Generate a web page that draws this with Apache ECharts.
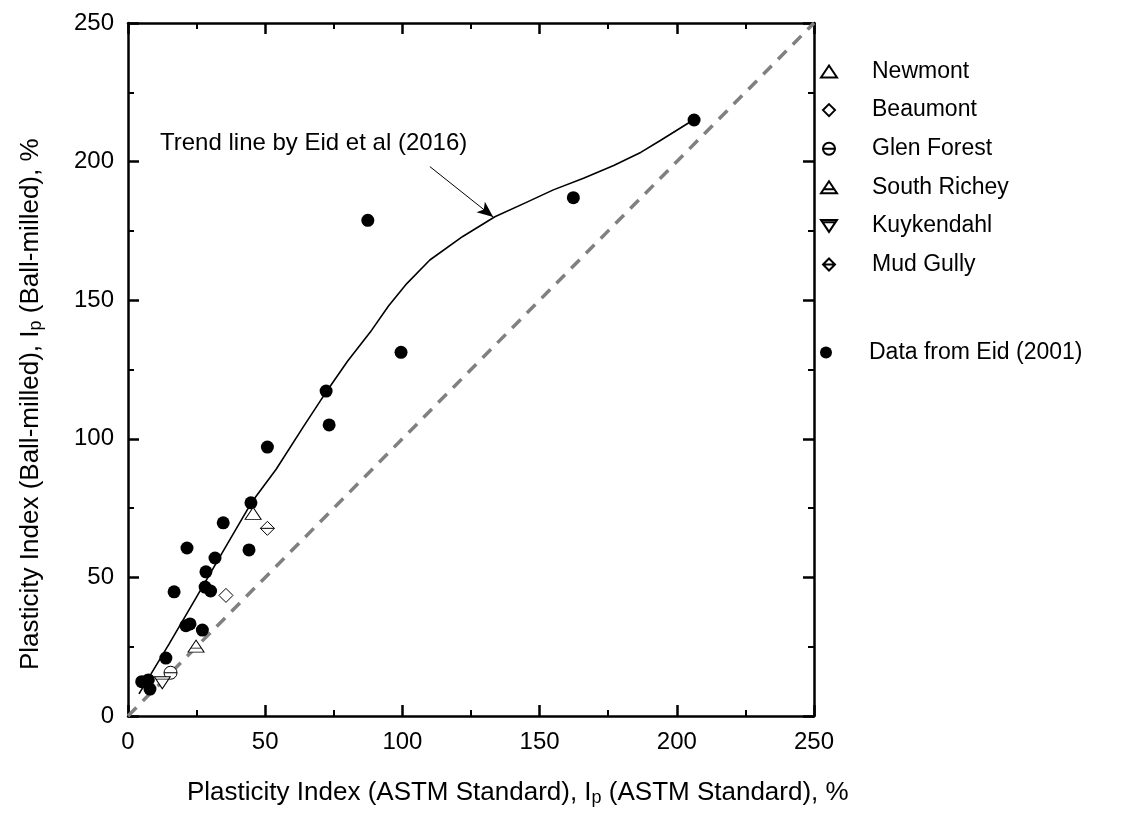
<!DOCTYPE html>
<html><head><meta charset="utf-8">
<script src="https://cdn.jsdelivr.net/npm/echarts@6/dist/echarts.min.js"></script>
<style>html,body{margin:0;padding:0;background:#fff}#c{width:1136px;height:819px}</style>
</head><body><div id="c"></div>
<script>
const axisMin = 0, axisMax = 250, axisStep = 50;
const newmont = [[45.6, 73.1]];
const beaumont = [[35.7, 43.5]];
const glenForest = [[15.5, 15.6]];
const southRichey = [[24.8, 25.2]];
const kuykendahl = [[12.5, 12.0]];
const mudGully = [[50.8, 67.7]];
const eidData = [
  [5.0, 12.4], [7.4, 13.0], [8.0, 9.7], [13.8, 20.9], [16.8, 44.8], [21.1, 32.6],
  [22.6, 33.2], [21.5, 60.6], [27.1, 31.0], [28.1, 46.5], [30.1, 45.1], [28.4, 52.0],
  [31.7, 57.0], [34.7, 69.7], [44.1, 59.9], [44.8, 76.9], [50.8, 97.0], [72.2, 117.2],
  [73.3, 105.0], [87.4, 178.8], [99.5, 131.2], [162.3, 187.0], [206.3, 215.0]
];
const trendLine = [
  [4, 8], [15, 26], [25, 43], [35, 60], [45, 77], [54, 89], [64, 104.5], [72.3, 117],
  [80, 128], [88.8, 139.2], [95, 148], [101.6, 156], [110, 164.5], [122, 173],
  [133.7, 180.1], [145, 185.2], [155, 189.8], [166, 194], [177, 198.6], [187, 203.4],
  [194, 207.6], [206, 215]
];
const equalityLine = [[0, 0], [250, 250]];
const arrowFrom = [110, 198.2];
const arrowTo = [133.1, 180];

const FONT = 'Liberation Sans, Arial, sans-serif';
const sym = {
  Newmont: 'path://M10,0L20,15L0,15Z',
  Beaumont: 'path://M10,0L20,10L10,20L0,10Z',
  'Glen Forest': 'path://M0,10A10,10,0,1,1,20,10A10,10,0,1,1,0,10ZM0,10L20,10',
  'South Richey': 'path://M10,0L20,15L0,15ZM3.3,10L16.7,10',
  Kuykendahl: 'path://M0,0L20,0L10,15ZM1.8,3L18.2,3',
  'Mud Gully': 'path://M10,0L20,10L10,20L0,10ZM0,10L20,10',
  'Data from Eid (2001)': 'circle'
};
const openStyle = {color: '#fff', borderColor: '#000', borderWidth: 1, opacity: 1};

function axis(pos, labels) {
  return {
    type: 'value', position: pos, min: axisMin, max: axisMax, interval: axisStep,
    axisLine: {show: true, onZero: false, lineStyle: {color: '#000', width: 2.5}},
    axisTick: {show: true, inside: true, length: 11, lineStyle: {color: '#000', width: 2.5}},
    minorTick: {show: true, splitNumber: 2, length: 6, lineStyle: {color: '#000', width: 2}},
    splitLine: {show: false},
    axisLabel: {show: labels, color: '#000', fontSize: 24, fontFamily: FONT, margin: 14}
  };
}
function openSeries(name, data, size) {
  return {name, type: 'scatter', data, symbol: sym[name], symbolSize: size,
    itemStyle: openStyle, z: 5};
}
const chart = echarts.init(document.getElementById('c'), null, {renderer: 'canvas'});
const richTitle = {
  a: {fontSize: 26, fontFamily: FONT, color: '#000'},
  s: {fontSize: 18, fontFamily: FONT, color: '#000', verticalAlign: 'bottom', padding: [11, 0, 0, 0]}
};
chart.setOption({
  animation: false,
  backgroundColor: '#fff',
  grid: {left: 128, right: 322, top: 23, bottom: 103},
  xAxis: [axis('bottom', true), axis('top', false)],
  yAxis: [axis('left', true), axis('right', false)],
  legend: [{
    orient: 'vertical', left: 815, top: 55, itemGap: 15.6,
    itemWidth: 76, itemHeight: 12, symbolKeepAspect: true,
    textStyle: {fontSize: 23, fontFamily: FONT, color: '#000'},
    data: ['Newmont', 'Beaumont', 'Glen Forest', 'South Richey', 'Kuykendahl', 'Mud Gully']
  }, {
    orient: 'vertical', left: 815, top: 336, itemWidth: 76, itemHeight: 12, symbolKeepAspect: true,
    textStyle: {fontSize: 23, fontFamily: FONT, color: '#000'},
    data: ['Data from Eid (2001)']
  }],
  graphic: [
    {type: 'text', x: 160, y: 143, style: {text: 'Trend line by Eid et al (2016)', fontSize: 24,
      fontFamily: FONT, fill: '#000', align: 'left', verticalAlign: 'middle'}},
    {type: 'text', x: 187, y: 793, style: {
      text: '{a|Plasticity Index (ASTM Standard), I}{s|p}{a| (ASTM Standard), %}', rich: richTitle,
      align: 'left', verticalAlign: 'middle'}},
    {type: 'text', x: 31, y: 670, rotation: Math.PI / 2, style: {
      text: '{a|Plasticity Index (Ball-milled), I}{s|p}{a| (Ball-milled), %}', rich: richTitle,
      align: 'left', verticalAlign: 'middle'}}
  ],
  series: [
    {name: 'equality', type: 'line', data: equalityLine, showSymbol: false, silent: true,
      lineStyle: {color: '#808080', width: 3.5, type: [12, 9]}, z: 1},
    {name: 'trend', type: 'line', data: trendLine, showSymbol: false, silent: true,
      lineStyle: {color: '#000', width: 1.6}, z: 2,
      markLine: {silent: true, symbol: ['none', 'arrow'], symbolSize: [10, 16],
        lineStyle: {color: '#000', width: 1, type: 'solid'}, label: {show: false},
        data: [[{coord: arrowFrom}, {coord: arrowTo}]]}},
    {name: 'Data from Eid (2001)', type: 'scatter', data: eidData, symbol: 'circle', symbolSize: 13,
      itemStyle: {color: '#000', opacity: 1}, z: 4},
    openSeries('Newmont', newmont, [16, 12]),
    openSeries('Beaumont', beaumont, 14),
    openSeries('Glen Forest', glenForest, 13),
    openSeries('South Richey', southRichey, [16, 12]),
    openSeries('Kuykendahl', kuykendahl, [16, 12]),
    openSeries('Mud Gully', mudGully, 14)
  ]
});
</script>
</body></html>
